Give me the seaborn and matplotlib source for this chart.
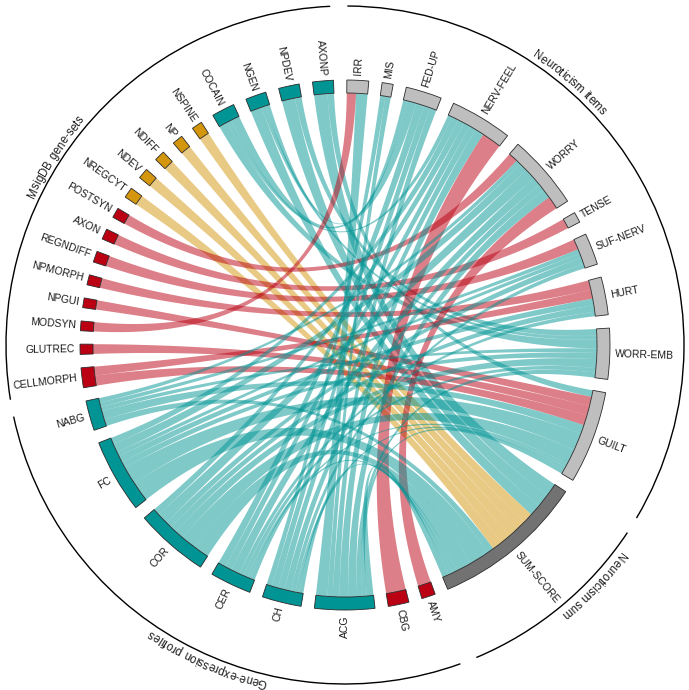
import numpy as np
import matplotlib
matplotlib.use("Agg")
import matplotlib.pyplot as plt
from matplotlib.patches import Wedge, Polygon, Arc
from matplotlib.font_manager import FontProperties
import seaborn as sns

# sectors, clockwise from the top of the circle
neuro_items = ["IRR", "MIS", "FED-UP", "NERV-FEEL", "WORRY", "TENSE",
               "SUF-NERV", "HURT", "WORR-EMB", "GUILT"]
neuro_sum = ["SUM-SCORE"]
gene_expr = ["AMY", "CBG", "ACG", "CH", "CER", "COR", "FC", "NABG"]
msigdb = ["CELLMORPH", "GLUTREC", "MODSYN", "NPGUI", "NPMORPH", "REGNDIFF",
          "AXON", "POSTSYN", "NREGCYT", "NDEV", "NDIFF", "NP", "NSPINE",
          "COCAIN", "NGEN", "NPDEV", "AXONP"]

group_names = ["Neuroticism items", "Neuroticism sum",
               "Gene-expression profiles", "MsigDB gene-sets"]

red_sets = ["AMY", "CBG", "CELLMORPH", "GLUTREC", "MODSYN", "NPGUI",
            "NPMORPH", "REGNDIFF", "AXON", "POSTSYN"]
gold_sets = ["NREGCYT", "NDEV", "NDIFF", "NP", "NSPINE"]

# links: source set -> neuroticism measure, width
link_from = ["AXONP", "AXONP", "NPDEV", "NPDEV", "NGEN", "NGEN", "NGEN",
             "COCAIN", "COCAIN", "COCAIN",
             "NSPINE", "NP", "NDIFF", "NDEV", "NREGCYT",
             "POSTSYN", "AXON", "REGNDIFF", "NPMORPH", "NPGUI", "MODSYN",
             "GLUTREC", "CELLMORPH", "CELLMORPH", "CBG", "AMY",
             "ACG", "ACG", "ACG", "ACG", "ACG", "ACG", "ACG", "ACG",
             "CH", "CH", "CH", "CH", "CH", "CH", "CH",
             "CER", "CER", "CER", "CER", "CER", "CER", "CER",
             "COR", "COR", "COR", "COR", "COR", "COR", "COR",
             "FC", "FC", "FC", "FC", "FC", "FC", "FC",
             "NABG", "NABG", "NABG", "NABG", "NABG"]
link_to = ["SUM-SCORE", "GUILT", "SUM-SCORE", "WORR-EMB", "SUM-SCORE", "FED-UP", "WORR-EMB",
           "NERV-FEEL", "WORR-EMB", "FED-UP",
           "SUM-SCORE", "SUM-SCORE", "SUM-SCORE", "SUM-SCORE", "SUM-SCORE",
           "WORRY", "TENSE", "SUF-NERV", "HURT", "GUILT", "IRR",
           "GUILT", "HURT", "GUILT", "NERV-FEEL", "WORRY",
           "IRR", "MIS", "FED-UP", "NERV-FEEL", "WORRY", "WORR-EMB", "GUILT", "SUM-SCORE",
           "MIS", "FED-UP", "NERV-FEEL", "WORRY", "SUF-NERV", "GUILT", "SUM-SCORE",
           "FED-UP", "NERV-FEEL", "WORRY", "HURT", "WORR-EMB", "GUILT", "SUM-SCORE",
           "NERV-FEEL", "WORRY", "SUF-NERV", "HURT", "WORR-EMB", "GUILT", "SUM-SCORE",
           "NERV-FEEL", "WORRY", "SUF-NERV", "HURT", "WORR-EMB", "GUILT", "SUM-SCORE",
           "WORRY", "SUF-NERV", "WORR-EMB", "GUILT", "SUM-SCORE"]
link_value = [3.0, 1.5, 3.0, 1.5, 2.6, 1.0, 0.9,
              1.0, 2.0, 2.0,
              2.3, 2.3, 2.3, 2.3, 2.3,
              2.2, 2.3, 2.4, 2.2, 2.1, 2.1,
              2.2, 2.0, 2.3, 4.5, 3.0,
              2.6, 1.2, 1.5, 2.0, 2.0, 1.2, 1.0, 1.5,
              1.2, 1.5, 1.5, 1.5, 1.0, 0.8, 1.0,
              1.8, 1.5, 2.0, 1.0, 1.0, 0.7, 1.0,
              1.5, 2.5, 1.5, 1.5, 2.0, 3.5, 3.5,
              1.5, 2.0, 1.0, 1.5, 1.4, 4.0, 4.6,
              1.0, 1.0, 1.0, 2.0, 1.5]

TEAL = "#009494"
RED = "#BA0012"
GOLD = "#D3960C"
GREY = "#BEBEBE"
DARK = "#727272"

sns.set_theme(style="white")
plt.rcParams["font.family"] = ["Liberation Sans", "DejaVu Sans"]

sectors = neuro_items + neuro_sum + gene_expr + msigdb


def sector_color(name):
    if name in neuro_items:
        return GREY
    if name in neuro_sum:
        return DARK
    if name in red_sets:
        return RED
    if name in gold_sets:
        return GOLD
    return TEAL


# sector sizes from the link widths
size = {s: 0.0 for s in sectors}
for a, b, v in zip(link_from, link_to, link_value):
    size[a] += v
    size[b] += v

gap = 2.9
start_deg = 0.4
unit = (360 - gap * len(sectors)) / sum(size.values())
pos = {}
cur = start_deg
for s in sectors:
    pos[s] = (cur, cur + size[s] * unit)
    cur += size[s] * unit + gap
mid = {s: (pos[s][0] + pos[s][1]) / 2 for s in sectors}

# place link ends in each sector so that ribbons nest instead of crossing
ends = {}
for s in sectors:
    idx = [i for i in range(len(link_value)) if link_from[i] == s or link_to[i] == s]

    def offset(i, s=s):
        other = link_to[i] if link_from[i] == s else link_from[i]
        return (mid[other] - mid[s]) % 360

    idx.sort(key=offset, reverse=True)
    cur = pos[s][0]
    for i in idx:
        w = link_value[i] * unit
        ends[(i, s)] = (cur, cur + w)
        cur += w

R_IN, R_OUT = 252, 265


def xy(deg, r):
    t = np.radians(deg)
    return np.column_stack([r * np.sin(t), r * np.cos(t)])


def bezier(p0, p2, n=60):
    t = np.linspace(0, 1, n)[:, None]
    return (1 - t) ** 2 * p0 + t ** 2 * p2


fig = plt.figure(figsize=(6.89, 6.90), dpi=100)
ax = fig.add_axes([0, 0, 1, 1])
ax.set_xlim(-345, 344)
ax.set_ylim(-345, 345)
ax.set_aspect("equal")
ax.axis("off")

# ribbons
for i in range(len(link_value)):
    a0, a1 = ends[(i, link_from[i])]
    b0, b1 = ends[(i, link_to[i])]
    arc_a = xy(np.linspace(a0, a1, 20), R_IN)
    arc_b = xy(np.linspace(b0, b1, 20), R_IN)
    c1 = bezier(arc_a[-1], arc_b[0])
    c2 = bezier(arc_b[-1], arc_a[0])
    verts = np.vstack([arc_a, c1, arc_b, c2])
    ax.add_patch(Polygon(verts, closed=True, facecolor=sector_color(link_from[i]),
                         edgecolor="none", alpha=0.5, zorder=2))

# sector blocks and labels
for s in sectors:
    d0, d1 = pos[s]
    ax.add_patch(Wedge((0, 0), R_OUT, 90 - d1, 90 - d0, width=R_OUT - R_IN,
                       facecolor=sector_color(s), edgecolor="#2b2b2b", lw=0.6, zorder=3))
    m = mid[s]
    x, y = xy(m, 270)[0]
    if m < 180:
        ax.text(x, y, s, rotation=90 - m, ha="left", va="center",
                rotation_mode="anchor", fontsize=7.5, color="#1a1a1a")
    else:
        ax.text(x, y, s, rotation=270 - m, ha="right", va="center",
                rotation_mode="anchor", fontsize=7.5, color="#1a1a1a")

# outer group arcs, titles set just outside them along the circle
R_ARC = 339
R_TXT = 344
groups = [neuro_items, neuro_sum, gene_expr, msigdb]
label_at = [40.5, 134, 203.6, 303]
renderer = fig.canvas.get_renderer()
fp = FontProperties(family=["Liberation Sans", "DejaVu Sans"], size=8.3)


def text_w(t):
    return renderer.get_text_width_height_descent(t, fp, ismath=False)[0]


for g, name, c in zip(groups, group_names, label_at):
    d0, d1 = pos[g[0]][0], pos[g[-1]][1]
    ax.add_patch(Arc((0, 0), 2 * R_ARC, 2 * R_ARC, theta1=90 - d1, theta2=90 - d0,
                     color="black", lw=1.0))
    total = text_w(name)
    start = c - np.degrees(total / 2 / R_TXT)
    for k, ch in enumerate(name):
        if ch == " ":
            continue
        w = text_w(ch)
        left = text_w(name[:k + 1]) - w
        th = start + np.degrees((left + w / 2) / R_TXT)
        x, y = xy(th, R_TXT)[0]
        ax.text(x, y, ch, rotation=-th, ha="center", va="baseline",
                rotation_mode="anchor", fontproperties=fp, color="#1a1a1a")

fig.savefig("out.png", dpi=100, facecolor="white")
